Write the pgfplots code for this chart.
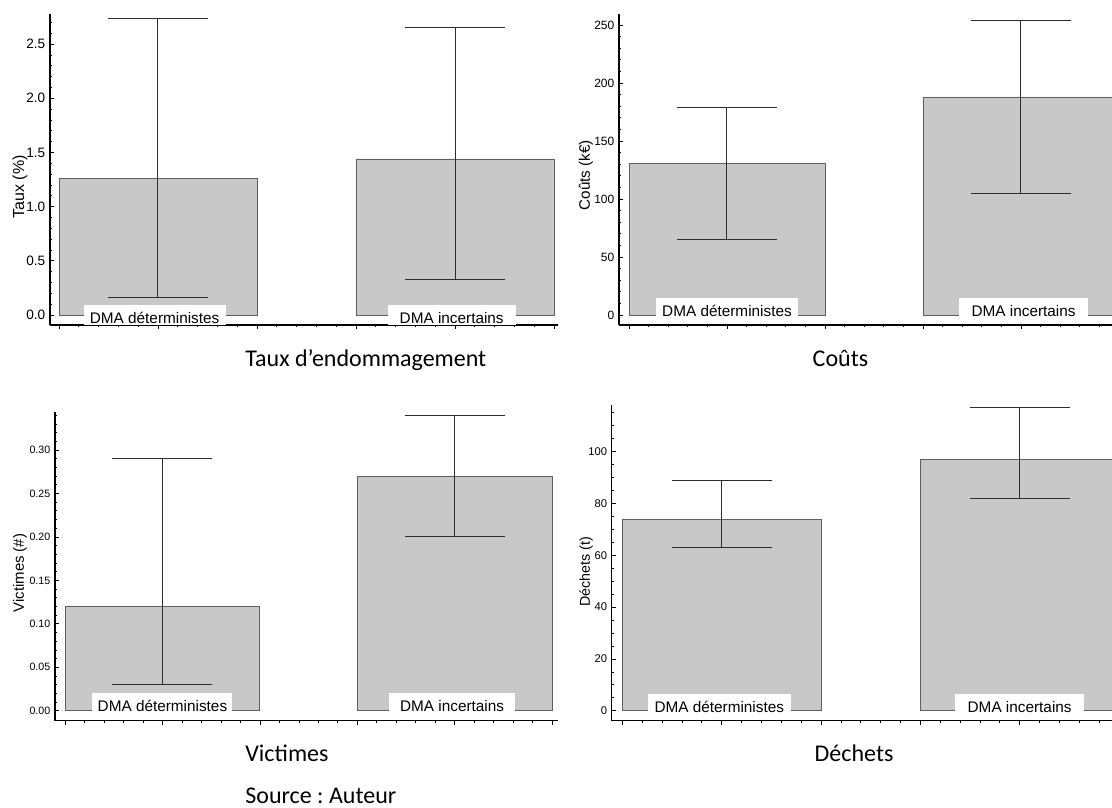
\documentclass[border=0pt]{standalone}
\usepackage{fontspec}
\setmainfont{Liberation Sans}
\newfontfamily\titlefont{Carlito}
\usepackage{pgfplots}
\pgfplotsset{compat=1.18}
\definecolor{barfill}{RGB}{200,200,200}
\definecolor{baredge}{RGB}{95,95,95}
\definecolor{errcol}{RGB}{45,45,45}
\pgfplotsset{
  panel/.style={
    scale only axis,
    anchor=south west,
    axis x line=bottom, axis y line=left,
    axis line style={-, black, line width=0.9pt},
    tick align=inside,
    major tick length=3pt, minor tick length=1.6pt,
    every tick/.style={black, line width=0.5pt},
    xtick={0,1,...,5},
    minor xtick={0,0.2,...,5},
    xticklabels={},
    ybar, bar width=2,
    /pgf/number format/assume math mode=true,
    ylabel style={anchor=center},
    clip=true,
  },
  barstyle/.style={
    fill=barfill, draw=baredge, line width=0.6pt,
    error bars/.cd, y dir=both, y explicit,
    error bar style={errcol, line width=0.75pt},
    error mark options={errcol, rotate=90, line width=0.75pt, mark size=37.5pt},
  },
}
\tikzset{
  catlabel/.style={fill=white, anchor=base, inner ysep=0pt, inner xsep=0pt,
    text height=13.7pt, text depth=3pt, font=\fontsize{11.5}{13}\selectfont},
  ttl/.style={anchor=base west, font=\titlefont\fontsize{18}{21}\selectfont},
}
\frenchspacing
\begin{document}
\begin{tikzpicture}
\useasboundingbox (0,0) rectangle (834pt,605.25pt);
% Panel 1: Taux
\begin{axis}[panel, at={(37.5pt,361.5pt)}, width=381pt, height=233.25pt,
  xmin=-0.09, xmax=5.04, ymin=-0.092, ymax=2.777,
  ytick={0,0.5,...,2.5}, minor ytick={0,0.1,...,2.75},
  yticklabel style={font=\fontsize{10.2}{11}\selectfont, /pgf/number format/.cd, fixed, fixed zerofill, precision=1},
  ylabel={Taux (\%)},
  ylabel style={at={(axis description cs:-0.059,0.444)}, font=\fontsize{12}{14}\selectfont}]
\addplot[barstyle] coordinates {(1,1.26) += (0,1.48) -= (0,1.10) (4,1.44) += (0,1.21) -= (0,1.11)};
\node[catlabel, minimum width=106.5pt, yshift=-6pt, xshift=-2.5pt] at (axis cs:1,0) {DMA déterministes};
\node[catlabel, minimum width=96pt, yshift=-6pt, xshift=-2.5pt] at (axis cs:4,0) {DMA incertains};
\end{axis}
% Panel 2: Couts
\begin{axis}[panel, at={(464.25pt,361.5pt)}, width=369.75pt, height=233.25pt,
  xmin=-0.102, xmax=4.93, ymin=-8.6, ymax=259.5,
  ytick={0,50,...,250}, minor ytick={0,10,...,250},
  yticklabel style={font=\fontsize{9}{10}\selectfont},
  ylabel={Coûts (k€)},
  ylabel style={at={(axis description cs:-0.067,0.482)}, font=\fontsize{11.4}{13}\selectfont}]
\addplot[barstyle] coordinates {(1,131) += (0,48) -= (0,66) (4,188) += (0,66) -= (0,83)};
\node[catlabel, minimum width=106.5pt, yshift=-1.3pt] at (axis cs:1,0) {DMA déterministes};
\node[catlabel, minimum width=97pt, yshift=-1.3pt, xshift=2pt] at (axis cs:4,0) {DMA incertains};
\end{axis}
% Panel 3: Victimes
\begin{axis}[panel, at={(41.25pt,64.7pt)}, width=377.25pt, height=231.75pt,
  xmin=-0.103, xmax=5.06, ymin=-0.0115, ymax=0.344,
  ytick={0,0.05,...,0.31}, minor ytick={0,0.01,...,0.34},
  yticklabel style={font=\fontsize{8}{9}\selectfont, /pgf/number format/.cd, fixed, fixed zerofill, precision=2},
  ylabel={Victimes (\#)},
  ylabel style={at={(axis description cs:-0.0696,0.478)}, font=\fontsize{11.2}{13}\selectfont}]
\addplot[barstyle] coordinates {(1,0.12) += (0,0.17) -= (0,0.09) (4,0.27) += (0,0.07) -= (0,0.07)};
\node[catlabel, minimum width=105pt, yshift=-0.75pt] at (axis cs:1,0) {DMA déterministes};
\node[catlabel, minimum width=95pt, yshift=-0.75pt, xshift=-2pt] at (axis cs:4,0) {DMA incertains};
\end{axis}
% Panel 4: Dechets
\begin{axis}[panel, at={(458.8pt,64.7pt)}, width=375.2pt, height=236.8pt,
  xmin=-0.107, xmax=4.93, ymin=-3.86, ymax=118,
  ytick={0,20,...,100}, minor ytick={0,5,...,115},
  yticklabel style={font=\fontsize{8.4}{10}\selectfont},
  ylabel={Déchets (t)},
  ylabel style={at={(axis description cs:-0.0514,0.471)}, font=\fontsize{10.7}{13}\selectfont}]
\addplot[barstyle] coordinates {(1,74) += (0,15) -= (0,11) (4,97) += (0,20) -= (0,15)};
\node[catlabel, minimum width=107pt, yshift=-1.5pt, xshift=-1.8pt] at (axis cs:1,0) {DMA déterministes};
\node[catlabel, minimum width=97pt, yshift=-1.5pt] at (axis cs:4,0) {DMA incertains};
\end{axis}
% Titles
\node[ttl] at (180.5pt,330pt) {Taux d’endommagement};
\node[ttl] at (606pt,330pt) {Coûts};
\node[ttl] at (180.5pt,34pt) {Victimes};
\node[ttl] at (607.5pt,34pt) {Déchets};
\node[ttl] at (180.5pt,3pt) {Source : Auteur};
\end{tikzpicture}
\end{document}
